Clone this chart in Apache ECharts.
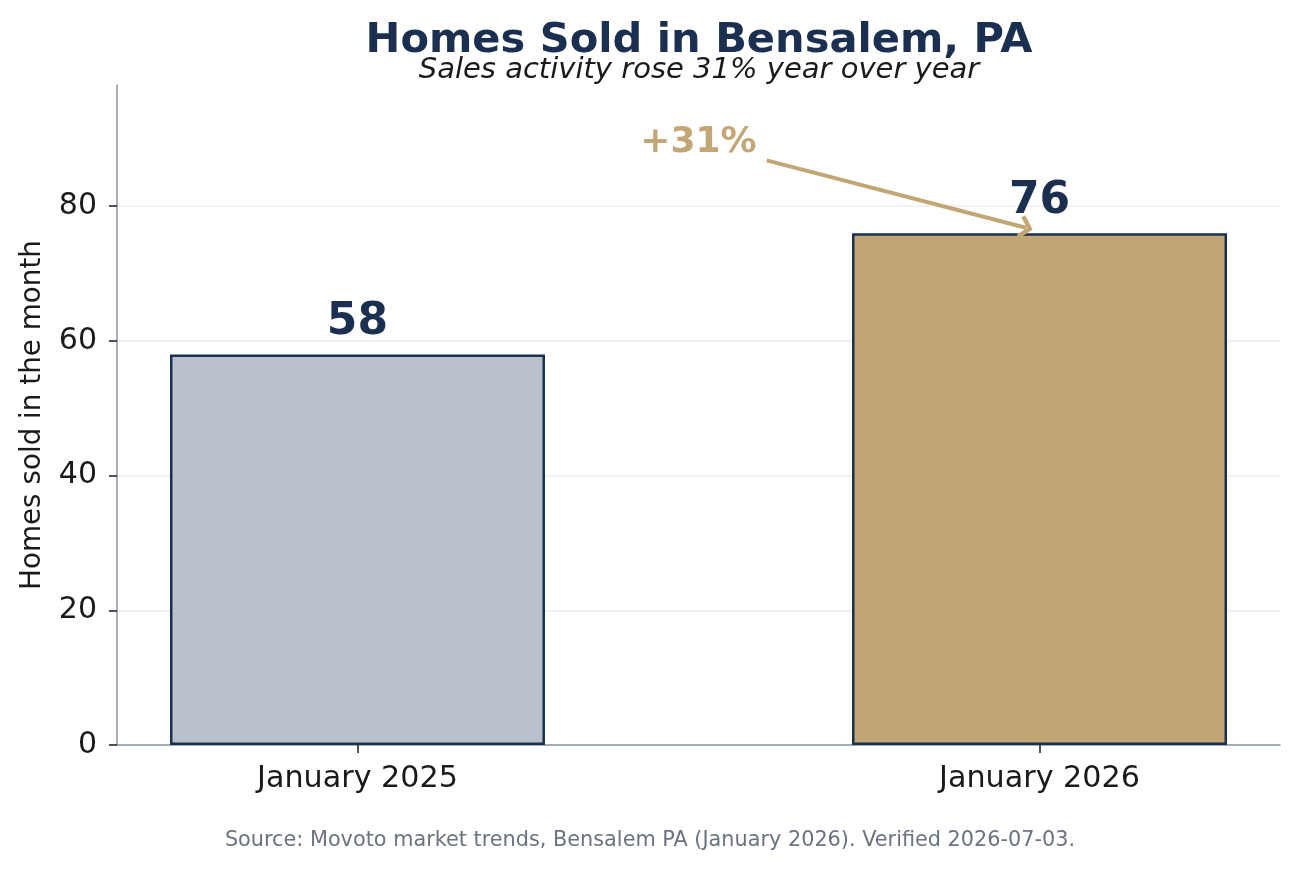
<!DOCTYPE html>
<html>
<head>
<meta charset="utf-8">
<script src="https://cdn.jsdelivr.net/npm/echarts@6/dist/echarts.min.js"></script>
<style>
  html, body { margin: 0; padding: 0; background: #fff; }
  #chart { width: 1300px; height: 869px; }
</style>
</head>
<body>
<div id="chart"></div>
<script>
// data
const categories = ["January 2025", "January 2026"];
const homesSold = [58, 76];
const barColors = ["#b9c0cb", "#c2a676"];
const yTicks = [0, 20, 40, 60, 80];
const changeLabel = "+31%";
// annotation: text spot and arrow (data coordinates)
const annotText = [0.5, 89.5];
const arrowFrom = [0.6, 86.8];
const arrowTo = [0.98, 76.8];

const NAVY = "#1b3050";
const TAN = "#c2a676";
const FONT = "DejaVu Sans";

const chart = echarts.init(document.getElementById("chart"));

const option = {
  animation: false,
  textStyle: { fontFamily: FONT },
  title: [
    {
      text: "Homes Sold in Bensalem, PA",
      left: 694,
      textAlign: "center",
      top: 14,
      textStyle: { fontFamily: FONT, fontSize: 41.6, fontWeight: "bold", color: NAVY, lineHeight: 44 },
    },
    {
      text: "Sales activity rose 31% year over year",
      left: 694,
      textAlign: "center",
      top: 50,
      textStyle: { fontFamily: FONT, fontSize: 29, fontStyle: "italic", fontWeight: "normal", color: "#1a1a1a", lineHeight: 30 },
    },
    {
      text: "Source: Movoto market trends, Bensalem PA (January 2026). Verified 2026-07-03.",
      left: "center",
      top: 825,
      textStyle: { fontFamily: FONT, fontSize: 20.8, fontWeight: "normal", color: "#6b7280" },
    },
  ],
  grid: { left: 117, right: 20, top: 85, bottom: 124 },
  xAxis: {
    type: "value",
    min: -0.3526,
    max: 1.3526,
    splitLine: { show: false },
    axisLine: { show: true, lineStyle: { color: "#8b95a5", width: 1.5 } },
    axisTick: { show: true, customValues: [0, 1], length: 8, lineStyle: { color: "#1a1a1a", width: 1.5 } },
    axisLabel: {
      customValues: [0, 1],
      formatter: (v) => categories[Math.round(v)],
      fontSize: 30.2,
      color: "#1a1a1a",
      margin: 19,
    },
  },
  yAxis: {
    type: "value",
    min: 0,
    max: 98,
    name: "Homes sold in the month",
    nameLocation: "middle",
    nameGap: 70,
    nameTextStyle: { fontSize: 27.8, color: "#1a1a1a" },
    axisLine: { show: true, onZero: false, lineStyle: { color: "#8b95a5", width: 1.5 } },
    axisTick: { show: true, customValues: yTicks, length: 8, lineStyle: { color: "#1a1a1a", width: 1.5 } },
    axisLabel: { customValues: yTicks, fontSize: 30, color: "#1a1a1a", margin: 20, padding: [6, 0, 0, 0] },
    splitLine: { show: true, lineStyle: { color: "#eeeeee", width: 1.5 } },
  },
  series: [
    {
      type: "bar",
      barWidth: 375,
      data: homesSold.map((v, i) => ({
        value: [i, v],
        itemStyle: { color: barColors[i], borderColor: NAVY, borderWidth: 2.5 },
      })),
      label: {
        show: true,
        position: "top",
        distance: 10,
        formatter: (p) => p.value[1],
        fontSize: 44,
        fontWeight: "bold",
        color: NAVY,
      },
      emphasis: { disabled: true },
      markLine: {
        silent: true,
        symbol: ["none", "path://M0,0 L10,9 L7.4,11.6 L0,4.9 L-7.4,11.6 L-10,9 Z"],
        symbolSize: [24, 14],
        label: { show: false },
        lineStyle: { color: TAN, width: 4, type: "solid" },
        itemStyle: { color: TAN },
        data: [[{ coord: arrowFrom }, { coord: arrowTo }]],
      },
      z: 2,
    },
    {
      type: "scatter",
      symbolSize: 0,
      data: [annotText],
      itemStyle: { opacity: 1 },
      label: {
        show: true,
        position: "inside",
        formatter: changeLabel,
        fontSize: 36,
        fontWeight: "bold",
        color: TAN,
        opacity: 1,
      },
      emphasis: { disabled: true },
      silent: true,
      z: 3,
    },
  ],
};

chart.setOption(option);
</script>
</body>
</html>
